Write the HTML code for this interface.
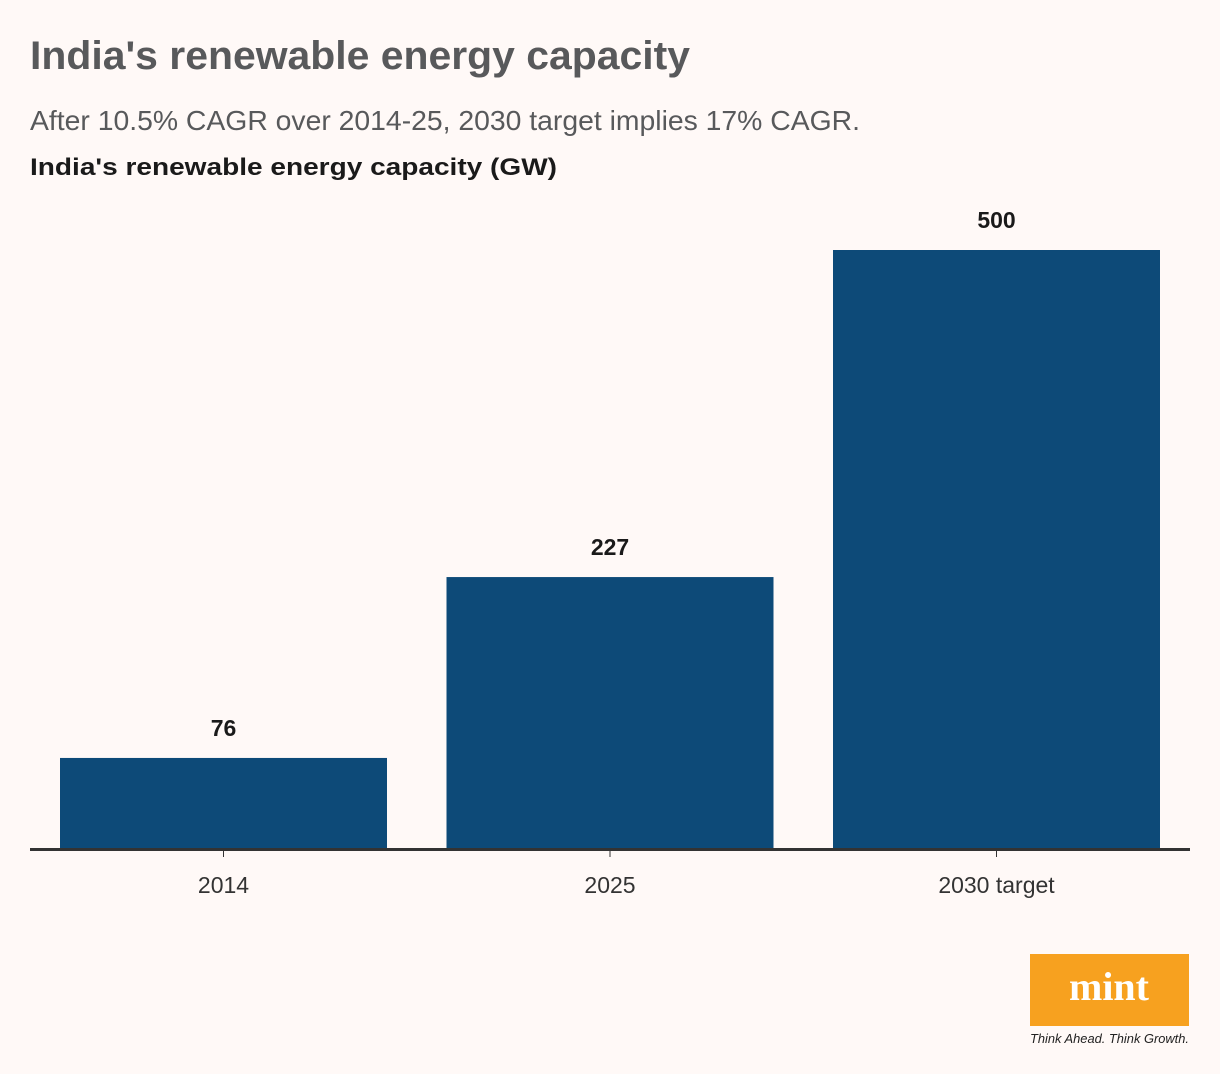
<!DOCTYPE html>
<html><head><meta charset="utf-8"><style>
html,body{margin:0;padding:0;background:#fff9f7;}
svg{display:block;font-family:"Liberation Sans",sans-serif;}
</style></head><body>
<svg id="chart" width="1220" height="1074" viewBox="0 0 1220 1074">
<rect width="1220" height="1074" fill="#fff9f7"/>
<text x="30" y="69" font-size="40" font-weight="bold" fill="#58595b" textLength="660" lengthAdjust="spacingAndGlyphs">India's renewable energy capacity</text>
<text x="30" y="130" font-size="28" fill="#58595b" textLength="830" lengthAdjust="spacingAndGlyphs">After 10.5% CAGR over 2014-25, 2030 target implies 17% CAGR.</text>
<text x="30" y="175" font-size="24" font-weight="bold" fill="#1a1a1a" textLength="527" lengthAdjust="spacingAndGlyphs">India's renewable energy capacity (GW)</text>
<g id="bars"></g>
<line x1="30" y1="849.5" x2="1190" y2="849.5" stroke="#333" stroke-width="3"/>
<rect x="1030" y="954" width="159" height="72" fill="#f7a11f"/>
<text x="1109" y="1000" font-family="Liberation Serif,serif" font-size="40" font-weight="bold" fill="#fff" text-anchor="middle">mint</text>
<text x="1030" y="1043" font-size="13" font-style="italic" fill="#222" textLength="159" lengthAdjust="spacingAndGlyphs">Think Ahead. Think Growth.</text>
</svg>
<script>
const categories = ["2014", "2025", "2030 target"];
const values = [76, 227, 500];
const labels = ["76", "227", "500"];
const NS = "http://www.w3.org/2000/svg";
const baseY = 849, pxPerUnit = 599 / 500;
const x0 = 60, step = 386.5, bw = 327;
function yScale(v){ return baseY - v * pxPerUnit; }
function xScale(i){ return x0 + i * step; }
const g = document.getElementById("bars");
categories.forEach((c, i) => {
  const x = xScale(i), y = yScale(values[i]);
  const r = document.createElementNS(NS, "rect");
  r.setAttribute("x", x); r.setAttribute("y", y);
  r.setAttribute("width", bw); r.setAttribute("height", baseY - y);
  r.setAttribute("fill", "#0d4a78");
  
  
  g.appendChild(r);
  const t = document.createElementNS(NS, "text");
  t.setAttribute("x", x + bw / 2); t.setAttribute("y", y - 22);
  t.setAttribute("text-anchor", "middle"); t.setAttribute("font-size", "23");
  t.setAttribute("font-weight", "bold"); t.setAttribute("fill", "#1a1a1a");
  t.textContent = labels[i];
  
  
  g.appendChild(t);
  const tk = document.createElementNS(NS, "line");
  tk.setAttribute("x1", x + bw / 2); tk.setAttribute("x2", x + bw / 2);
  tk.setAttribute("y1", baseY); tk.setAttribute("y2", baseY + 8);
  tk.setAttribute("stroke", "#333"); tk.setAttribute("stroke-width", "1");
  
  
  g.appendChild(tk);
  const xl = document.createElementNS(NS, "text");
  xl.setAttribute("x", x + bw / 2); xl.setAttribute("y", 893);
  xl.setAttribute("text-anchor", "middle"); xl.setAttribute("font-size", "23");
  xl.setAttribute("fill", "#333");
  xl.textContent = c;
  
  
  g.appendChild(xl);
});
</script>
</body></html>
